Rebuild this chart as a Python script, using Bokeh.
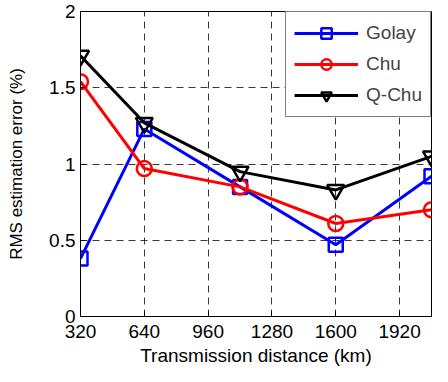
from bokeh.plotting import figure
from bokeh.models import FixedTicker, Range1d
from bokeh.embed import file_html
from bokeh.resources import INLINE

distance = [320, 640, 1120, 1600, 2080]
golay = [0.38, 1.23, 0.85, 0.47, 0.92]
chu = [1.54, 0.97, 0.85, 0.61, 0.70]
qchu = [1.71, 1.27, 0.95, 0.83, 1.05]
x_ticks = [320, 640, 960, 1280, 1600, 1920]
y_ticks = [0, 0.5, 1, 1.5, 2]
y_labels = {0: "0", 0.5: "0.5", 1: "1", 1.5: "1.5", 2: "2"}

FONT = "Liberation Sans"

p = figure(width=432, height=368, output_backend="svg", toolbar_location=None,
           x_range=Range1d(320, 2080), y_range=Range1d(0, 2),
           min_border_left=80, min_border_right=1, min_border_top=11, min_border_bottom=50)

p.outline_line_color = "black"
p.outline_line_width = 1
p.background_fill_color = "white"
p.border_fill_color = "white"

for ax in (p.xaxis, p.yaxis):
    ax.axis_line_color = "black"
    ax.major_tick_in = 5
    ax.major_tick_out = 0
    ax.minor_tick_line_color = None
    ax.major_label_text_font = FONT
    ax.major_label_text_font_size = "19px"
    ax.major_label_text_color = "black"
    ax.axis_label_text_font = FONT
    ax.axis_label_text_font_style = "normal"
    ax.axis_label_text_color = "black"

p.xaxis.axis_label_text_font_size = "19px"
p.yaxis.axis_label_text_font_size = "17px"
p.xaxis.ticker = FixedTicker(ticks=x_ticks)
p.yaxis.ticker = FixedTicker(ticks=y_ticks)
p.yaxis.major_label_overrides = y_labels
p.xaxis.axis_label = "Transmission distance (km)"
p.yaxis.axis_label = "RMS estimation error (%)"
p.xaxis.major_label_standoff = 8
p.yaxis.major_label_standoff = 5
p.xaxis.axis_label_standoff = 4
p.yaxis.axis_label_standoff = 20

for g in (p.xgrid, p.ygrid):
    g.grid_line_color = "#222222"
    g.grid_line_dash = "7 5"
    g.grid_line_width = 1
    g.grid_line_alpha = 0.9

series = [
    ("Golay", golay, "#0000ff", "square", 14),
    ("Chu", chu, "#ff0000", "circle", 15),
    ("Q-Chu", qchu, "#000000", "inverted_triangle", 17),
]
for name, vals, col, mk, sz in series:
    p.line(distance, vals, line_color=col, line_width=3, legend_label=name)
    p.scatter(distance, vals, marker=mk, size=sz, fill_color=None, line_color=col,
              line_width=2.5, legend_label=name)

lg = p.legend[0]
lg.location = "top_right"
lg.margin = 0
lg.border_line_color = "black"
lg.border_line_width = 1
lg.background_fill_alpha = 1
lg.label_text_font = FONT
lg.label_text_font_size = "19px"
lg.glyph_width = 64
lg.glyph_height = 26
lg.spacing = 5
lg.padding = 8
lg.label_standoff = 8

open("out.html", "w").write(file_html(p, INLINE))
